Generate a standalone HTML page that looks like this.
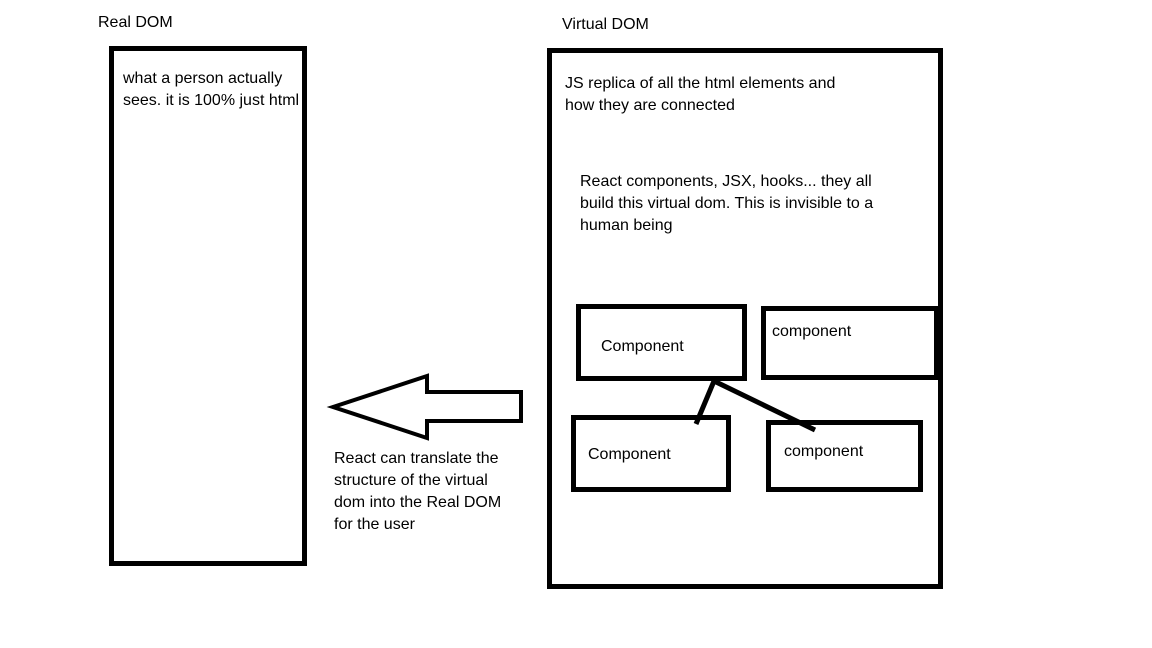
<!DOCTYPE html>
<html><head><style>
body{margin:0;width:1152px;height:648px;background:#fff;position:relative;overflow:hidden;font-family:"Liberation Sans",sans-serif;font-size:16px;color:#000}
.t{position:absolute;line-height:22px;white-space:nowrap}
</style></head><body>
<svg width="1152" height="648" style="position:absolute;left:0;top:0">
<g fill="none" stroke="#000" stroke-width="5">
<rect x="111.5" y="48.5" width="193" height="515"/>
<rect x="549.5" y="50.5" width="391" height="536"/>
<rect x="578.5" y="306.5" width="166" height="72"/>
<rect x="763.5" y="308.5" width="173" height="69"/>
<rect x="573.5" y="417.5" width="155" height="72"/>
<rect x="768.5" y="422.5" width="152" height="67"/>
<path d="M714 381 L696 424 M714 381 L815 430"/>
<path stroke-width="4" d="M333 407 L427 376 L427 392 L521 392 L521 421 L427 421 L427 438 Z"/>
</g>
</svg>
<div class="t" style="left:98px;top:12px">Real DOM</div>
<div class="t" style="left:123px;top:68px">what a person actually<br>sees. it is 100% just html</div>
<div class="t" style="left:562px;top:14px">Virtual DOM</div>
<div class="t" style="left:565px;top:73px">JS replica of all the html elements and<br>how they are connected</div>
<div class="t" style="left:580px;top:171px">React components, JSX, hooks... they all<br>build this virtual dom. This is invisible to a<br>human being</div>
<div class="t" style="left:601px;top:336px">Component</div>
<div class="t" style="left:772px;top:321px">component</div>
<div class="t" style="left:588px;top:444px">Component</div>
<div class="t" style="left:784px;top:441px">component</div>
<div class="t" style="left:334px;top:448px">React can translate the<br>structure of the virtual<br>dom into the Real DOM<br>for the user</div>
</body></html>
